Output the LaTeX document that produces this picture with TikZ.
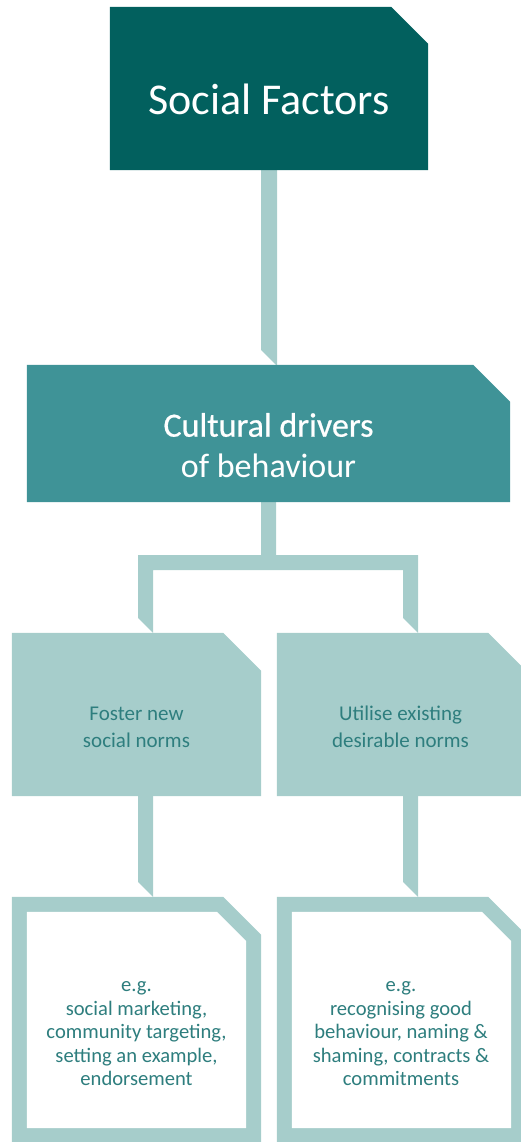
\documentclass[tikz,border=0pt]{standalone}
\usepackage{fontspec}
\setmainfont{Carlito}
\newfontface\semib[FakeBold=0.6]{Carlito}
\usetikzlibrary{calc}
\definecolor{darkc}{HTML}{02605E}
\definecolor{midc}{HTML}{3F9397}
\definecolor{lightc}{HTML}{A6CDCB}
\definecolor{txtc}{HTML}{2E7E7E}
\begin{document}
\begin{tikzpicture}[x=1pt,y=-1pt,
  box/.style={rectangle,inner sep=0pt,draw=none},
  lbl/.style={inner sep=0pt,align=center},
  conn/.style={fill=lightc}]
\useasboundingbox (0,0) rectangle (521,1142);
% box frames (named, drawn below)
\node[box,minimum width=318pt,minimum height=163pt] (top) at (269,88.5) {};
\node[box,minimum width=483pt,minimum height=137pt] (mid) at (268.5,433.5) {};
\node[box,minimum width=249pt,minimum height=163pt] (l1) at (136.5,714.5) {};
\node[box,minimum width=249pt,minimum height=163pt] (r1) at (401.5,714.5) {};
\node[box,minimum width=249pt,minimum height=246pt] (l2) at (136.5,1020) {};
\node[box,minimum width=249pt,minimum height=246pt] (r2) at (401.5,1020) {};
% connectors
\fill[conn] let \p1=(top.south), \p2=(mid.north) in
  (\x1-8pt,\y1) -- (\x1+8pt,\y1) -- (\x1+8pt,\y2) -- (\x1+7pt,\y2) -- (\x1-8pt,\y2+15pt) -- cycle;
\fill[conn] let \p1=(mid.south), \p2=(l1.north), \p3=(r1.north) in
  (\x1-7.5pt,\y1) -- (\x1+7.5pt,\y1) -- (\x1+7.5pt,\y1-53pt) -- (\x3+16.5pt,\y1-53pt)
  -- (\x3+16.5pt,\y3) -- (\x3+1.5pt,\y3+15pt) -- (\x3+1.5pt,\y1-68pt)
  -- (\x2+16.5pt,\y1-68pt) -- (\x2+16.5pt,\y2) -- (\x2+1.5pt,\y2+15pt)
  -- (\x2+1.5pt,\y1-53pt) -- (\x1-7.5pt,\y1-53pt) -- cycle;
\fill[conn] let \p1=(l1.south), \p2=(l2.north) in
  (\x1+1.5pt,\y1) -- (\x1+16.5pt,\y1) -- (\x1+16.5pt,\y2) -- (\x1+1.5pt,\y2+15pt) -- cycle;
\fill[conn] let \p1=(r1.south), \p2=(r2.north) in
  (\x1+1.5pt,\y1) -- (\x1+16.5pt,\y1) -- (\x1+16.5pt,\y2) -- (\x1+1.5pt,\y2+15pt) -- cycle;
% box fills
\fill[darkc] (top.south west) -- (top.north west) -- ($(top.north east)+(-37,0)$) -- ($(top.north east)+(0,37)$) -- (top.south east) -- cycle;
\fill[midc] (mid.south west) -- (mid.north west) -- ($(mid.north east)+(-37,0)$) -- ($(mid.north east)+(0,37)$) -- (mid.south east) -- cycle;
\foreach \b in {l1,r1,l2,r2}{
  \fill[lightc] (\b.south west) -- (\b.north west) -- ($(\b.north east)+(-38,0)$) -- ($(\b.north east)+(0,38)$) -- (\b.south east) -- cycle;
}
\foreach \b in {l2,r2}{
  \fill[white] ($(\b.north west)+(15,15)$) -- ($(\b.north east)+(-44.2,15)$) -- ($(\b.north east)+(-15,44.2)$) -- ($(\b.south east)+(-15,-15)$) -- ($(\b.south west)+(15,-15)$) -- cycle;
}
% texts
\node[lbl,text=white,font=\fontsize{44}{52}\selectfont,anchor=base] (tTop) at (269,115) {Social Factors};
\node[lbl,text=white,font=\fontsize{34}{41}\selectfont] (tMid) at (268.5,445.5) {{\semib Cultural drivers}\\of behaviour};
\node[lbl,text=txtc,font=\fontsize{21}{27}\selectfont] (tL1) at (136.5,727) {Foster new\\social norms};
\node[lbl,text=txtc,font=\fontsize{21}{27}\selectfont] (tR1) at (400.5,727) {Utilise existing\\desirable norms};
\node[lbl,text=txtc,font=\fontsize{20.6}{23.5}\selectfont] (tL2) at (136.5,1034) {e.g.\\social marketing,\\community targeting,\\setting an example,\\endorsement};
\node[lbl,text=txtc,font=\fontsize{20.6}{23.5}\selectfont] (tR2) at (401,1034) {e.g.\\recognising good\\behaviour, naming \&\\shaming, contracts \&\\commitments};
\end{tikzpicture}
\end{document}
